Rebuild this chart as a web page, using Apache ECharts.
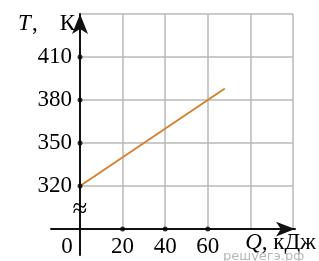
<!DOCTYPE html>
<html>
<head>
<meta charset="utf-8">
<script src="https://cdn.jsdelivr.net/npm/echarts@6/dist/echarts.min.js"></script>
<style>
  html, body { margin: 0; padding: 0; background: #fff; }
  #main { width: 319px; height: 261px; }
</style>
</head>
<body>
<div id="main"></div>
<script type="text/javascript">
// ось T (К), шаг 30, низ оси — разрыв
var tempGrid = [290, 320, 350, 380, 410, 440];
var tempLabels = [320, 350, 380, 410];
// ось Q (кДж)
var heatGrid = [0, 20, 40, 60, 80, 100];
var heatLabels = [0, 20, 40, 60];
// график T(Q)
var lineQ = [0, 68];
var lineT = [320, 388];

var FONT = 'Liberation Serif';
var FS = 23;
var myChart = echarts.init(document.getElementById('main'));

var linePts = lineQ.map(function (q, i) { return [q, lineT[i]]; });
var dots = tempLabels.map(function (t) { return [0, t]; })
    .concat(heatLabels.filter(function (q) { return q > 0; }).map(function (q) { return [q, tempGrid[0]]; }));

var txt = { color: '#000', fontFamily: FONT, fontSize: FS };

var option = {
    animation: false,
    title: {
        text: 'решуегэ.рф',
        left: 218, top: 245,
        textStyle: { color: '#b8b8b8', fontSize: 13, fontWeight: 'normal', fontFamily: 'DejaVu Sans' }
    },
    grid: [
        { left: 80, right: 24, top: 14, bottom: 32 },
        { left: 51, right: 24, top: 14, bottom: 6 }
    ],
    xAxis: [
        {
            gridIndex: 0, type: 'value', min: 0, max: 100,
            axisLine: { show: false },
            axisTick: { show: false, customValues: heatGrid },
            splitLine: { show: true, lineStyle: { color: '#b9b9b9', width: 1.5 } },
            axisLabel: {
                customValues: heatLabels, margin: 6,
                color: '#000', fontFamily: FONT, fontSize: FS,
                formatter: function (v) { return v === 0 ? '{o|0}' : String(v); },
                rich: { o: { padding: [0, 26, 0, 0], color: '#000', fontFamily: FONT, fontSize: FS } }
            },
            name: '{i|Q}, кДж',
            nameLocation: 'end', nameGap: 23,
            nameTextStyle: {
                color: '#000', fontFamily: FONT, fontSize: FS, align: 'right', verticalAlign: 'middle',
                padding: [28, 0, 0, 0],
                rich: { i: { fontStyle: 'italic', fontFamily: FONT, fontSize: FS, color: '#000' } }
            }
        },
        {
            gridIndex: 1, type: 'value', min: -13.5, max: 100, z: 5,
            axisLine: { show: true, onZero: true, symbol: ['none', 'arrow'], symbolSize: [11, 19],
                lineStyle: { color: '#111', width: 2 } },
            axisTick: { show: false }, axisLabel: { show: false }, splitLine: { show: false }
        }
    ],
    yAxis: [
        {
            gridIndex: 0, type: 'value', min: 290, max: 440,
            axisLine: { show: false },
            axisTick: { show: false, customValues: tempGrid },
            splitLine: { show: true, lineStyle: { color: '#b9b9b9', width: 1.5 } },
            axisLabel: {
                customValues: tempLabels, margin: 8,
                color: '#000', fontFamily: FONT, fontSize: FS
            },
            name: '{i|T}{c|,}{k|К}',
            nameLocation: 'end', nameGap: -10,
            nameTextStyle: {
                color: '#000', fontFamily: FONT, fontSize: FS, align: 'right', verticalAlign: 'middle',
                padding: [0, 5, 0, 0],
                rich: {
                    i: { fontStyle: 'italic', fontFamily: FONT, fontSize: FS, color: '#000' },
                    c: { fontFamily: FONT, fontSize: FS, color: '#000', padding: [0, 22, 0, 1] },
                    k: txt
                }
            }
        },
        {
            gridIndex: 1, type: 'value', min: -18.1, max: 150, z: 5,
            axisLine: { show: true, onZero: true, symbol: ['none', 'arrow'], symbolSize: [12, 20],
                lineStyle: { color: '#111', width: 2 } },
            axisTick: { show: false }, axisLabel: { show: false }, splitLine: { show: false }
        }
    ],
    series: [
        {
            type: 'line', xAxisIndex: 0, yAxisIndex: 0, z: 3,
            data: linePts, symbol: 'none', clip: false,
            lineStyle: { color: '#d6812c', width: 2 },
            markPoint: {
                symbol: 'circle', symbolSize: 1,
                itemStyle: { color: 'rgba(0,0,0,0)' },
                label: { show: true, position: 'inside', formatter: '≈', color: '#000', fontFamily: FONT, fontSize: 27 },
                data: [{ coord: [0, 303] }]
            }
        },
        {
            type: 'scatter', xAxisIndex: 0, yAxisIndex: 0, z: 10, clip: false,
            data: dots, symbol: 'circle', symbolSize: 5,
            itemStyle: { color: '#000' }
        }
    ]
};

myChart.setOption(option);
</script>
</body>
</html>
